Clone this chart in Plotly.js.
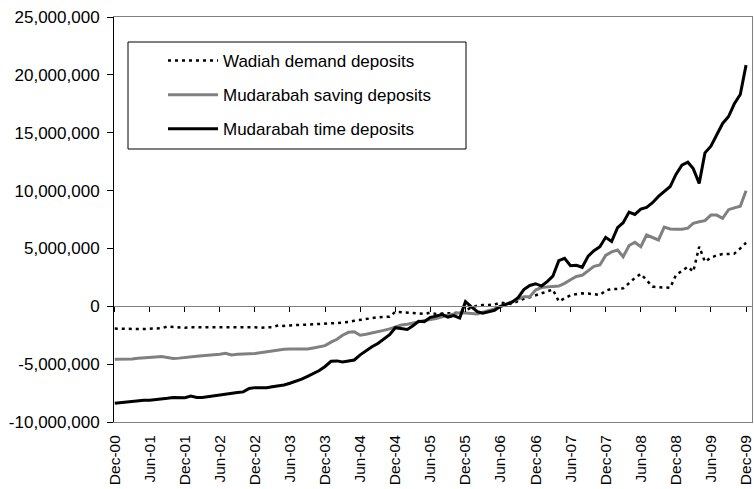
<!DOCTYPE html>
<html>
<head>
<meta charset="utf-8">
<script src="https://cdn.plot.ly/plotly-3.0.1.min.js"></script>
<style>
  html, body { margin: 0; padding: 0; background: #fff; }
  #chart { width: 754px; height: 489px; }
</style>
</head>
<body>
<div id="chart"></div>
<script>
// Monthly observations, Dec-2000 .. Dec-2009 (109 months)
const startYear = 2000, startMonth = 12, monthCount = 109;
const months = [];
for (let k = 0; k < monthCount; k++) {
  const m0 = startMonth - 1 + k;
  const y = startYear + Math.floor(m0 / 12);
  const m = (m0 % 12) + 1;
  months.push(y + '-' + String(m).padStart(2, '0') + '-01');
}

const seriesNames = ['Wadiah demand deposits', 'Mudarabah saving deposits', 'Mudarabah time deposits'];

const wadiah = [
  -1930000,-1950000,-1950000,-1950000,-1960000,-1960000,-1960000,-1950000,-1900000,-1750000,
  -1800000,-1850000,-1850000,-1820000,-1820000,-1800000,-1800000,-1800000,-1820000,-1800000,
  -1800000,-1800000,-1780000,-1800000,-1820000,-1850000,-1850000,-1800000,-1650000,-1700000,
  -1650000,-1600000,-1600000,-1580000,-1560000,-1550000,-1520000,-1500000,-1450000,-1400000,
  -1360000,-1250000,-1180000,-1050000,-1000000,-950000,-920000,-900000,-470000,-520000,
  -580000,-600000,-650000,-660000,-550000,-660000,-630000,-600000,-580000,-550000,
  -350000,-100000,50000,110000,110000,150000,310000,250000,200000,450000,
  650000,780000,950000,1120000,1350000,1450000,420000,700000,950000,1050000,
  1120000,1100000,1050000,980000,1350000,1500000,1500000,1550000,2000000,2450000,
  2800000,2300000,1700000,1650000,1600000,1600000,2700000,3100000,3420000,2990000,
  5150000,3850000,4200000,4400000,4520000,4520000,4550000,5000000,5490000
];

const saving = [
  -4580000,-4580000,-4580000,-4560000,-4500000,-4440000,-4420000,-4380000,-4350000,-4450000,
  -4520000,-4480000,-4410000,-4380000,-4320000,-4280000,-4250000,-4200000,-4150000,-4060000,
  -4200000,-4150000,-4100000,-4100000,-4080000,-4000000,-3950000,-3850000,-3770000,-3720000,
  -3700000,-3690000,-3690000,-3690000,-3600000,-3500000,-3400000,-3100000,-2850000,-2500000,
  -2250000,-2200000,-2500000,-2420000,-2320000,-2200000,-2080000,-1950000,-1800000,-1620000,
  -1550000,-1480000,-1350000,-1220000,-1150000,-1050000,-900000,-800000,-700000,-550000,
  -580000,-620000,-660000,-500000,-380000,-220000,-20000,180000,380000,600000,
  830000,830000,1400000,1620000,1700000,1720000,1750000,1980000,2300000,2580000,
  2680000,3050000,3450000,3570000,4400000,4700000,4860000,4280000,5250000,5530000,
  5150000,6160000,5950000,5730000,6850000,6680000,6650000,6650000,6750000,7170000,
  7300000,7400000,7880000,7880000,7600000,8350000,8500000,8650000,9980000
];

const timeDep = [
  -8380000,-8330000,-8270000,-8220000,-8150000,-8120000,-8120000,-8080000,-8000000,-7950000,
  -7880000,-7900000,-7900000,-7750000,-7880000,-7880000,-7800000,-7750000,-7700000,-7600000,
  -7520000,-7460000,-7400000,-7100000,-7030000,-7030000,-7030000,-6950000,-6880000,-6800000,
  -6650000,-6500000,-6300000,-6050000,-5820000,-5550000,-5200000,-4750000,-4720000,-4810000,
  -4720000,-4640000,-4200000,-3850000,-3500000,-3220000,-2850000,-2450000,-1850000,-1950000,
  -2000000,-1700000,-1300000,-1330000,-950000,-850000,-690000,-930000,-810000,-1020000,
  400000,-50000,-470000,-600000,-500000,-350000,0,150000,350000,750000,
  1450000,1800000,1950000,1750000,2150000,2600000,3940000,4140000,3500000,3550000,
  3370000,4340000,4800000,5150000,5960000,5600000,6800000,7220000,8140000,7940000,
  8400000,8550000,8950000,9500000,9900000,10350000,11400000,12200000,12450000,11900000,
  10620000,13260000,13840000,14800000,15800000,16400000,17500000,18300000,20840000
];

const yTickVals = [-10000000, -5000000, 0, 5000000, 10000000, 15000000, 20000000, 25000000];
const yTickText = ['-10,000,000', '-5,000,000', '0', '5,000,000', '10,000,000', '15,000,000', '20,000,000', '25,000,000'];

const FONT = '"Liberation Sans", Arial, Helvetica, sans-serif';
const xRange = ['2000-11-27', '2010-01-01'];
const yRange = [-10000000, 25000000];

const traces = [
  { x: months, y: wadiah, name: seriesNames[0], type: 'scatter', mode: 'lines', legendgroup: 'a',
    line: { color: '#000000', width: 2.5, dash: '3px,4px' } },
  { x: months, y: saving, name: seriesNames[1], type: 'scatter', mode: 'lines', legendgroup: 'b',
    line: { color: '#808080', width: 3 } },
  { x: months, y: timeDep, name: seriesNames[2], type: 'scatter', mode: 'lines', legendgroup: 'c',
    line: { color: '#000000', width: 3 } }
];

const layout = {
  width: 754, height: 489,
  margin: { l: 114, r: 2, t: 17, b: 67 },
  paper_bgcolor: '#ffffff', plot_bgcolor: '#ffffff',
  font: { family: FONT, size: 17, color: '#000000' },
  showlegend: true,
  legend: {
    x: (163 - 114) / 638, y: (422 - 43) / 405, xanchor: 'left', yanchor: 'top',
    bgcolor: 'rgba(0,0,0,0)', borderwidth: 0,
    traceorder: 'grouped', tracegroupgap: 9, itemwidth: 50,
    font: { family: FONT, size: 17, color: '#000000' }
  },
  xaxis: {
    type: 'date', range: xRange,
    tick0: '2000-12-01', dtick: 'M6', tickformat: '%b-%y',
    tickangle: -90, ticks: '', showgrid: false, zeroline: false,
    showline: true, linecolor: '#808080', linewidth: 1, mirror: true,
    tickfont: { family: FONT, size: 15.5, color: '#000000' },
    ticklabelstandoff: 6, ticklabeloverflow: 'allow'
  },
  xaxis2: {
    type: 'date', range: xRange, overlaying: 'x', anchor: 'free',
    position: (0 - yRange[0]) / (yRange[1] - yRange[0]),
    tick0: '2000-12-01', dtick: 'M6',
    ticks: 'outside', ticklen: 5, tickcolor: '#000000', tickwidth: 1,
    showticklabels: false, showgrid: false, zeroline: false,
    showline: true, linecolor: '#808080', linewidth: 1
  },
  yaxis: {
    range: yRange, tickvals: yTickVals, ticktext: yTickText,
    ticks: 'outside', ticklen: 6, tickcolor: '#000000', tickwidth: 1,
    showgrid: false, zeroline: false,
    showline: true, linecolor: '#000000', linewidth: 1,
    tickfont: { family: FONT, size: 17, color: '#000000' },
    ticklabelstandoff: 4
  },
  yaxis2: {
    overlaying: 'y', side: 'right', range: yRange,
    showticklabels: false, ticks: '', showgrid: false, zeroline: false,
    showline: true, linecolor: '#808080', linewidth: 1
  },
  shapes: [
    { type: 'rect', xref: 'paper', yref: 'paper',
      x0: (128 - 114) / 638, x1: (466 - 114) / 638,
      y0: (422 - 149) / 405, y1: (422 - 42) / 405,
      line: { color: '#000000', width: 1 }, fillcolor: 'rgba(0,0,0,0)' }
  ]
};

// invisible helper trace so the overlay axes are drawn
traces.push({ x: [months[0]], y: [0], xaxis: 'x2', yaxis: 'y2', type: 'scatter', mode: 'markers',
  marker: { opacity: 0 }, showlegend: false, hoverinfo: 'skip' });

Plotly.newPlot('chart', traces, layout, { displayModeBar: false, staticPlot: true });
</script>
</body>
</html>
